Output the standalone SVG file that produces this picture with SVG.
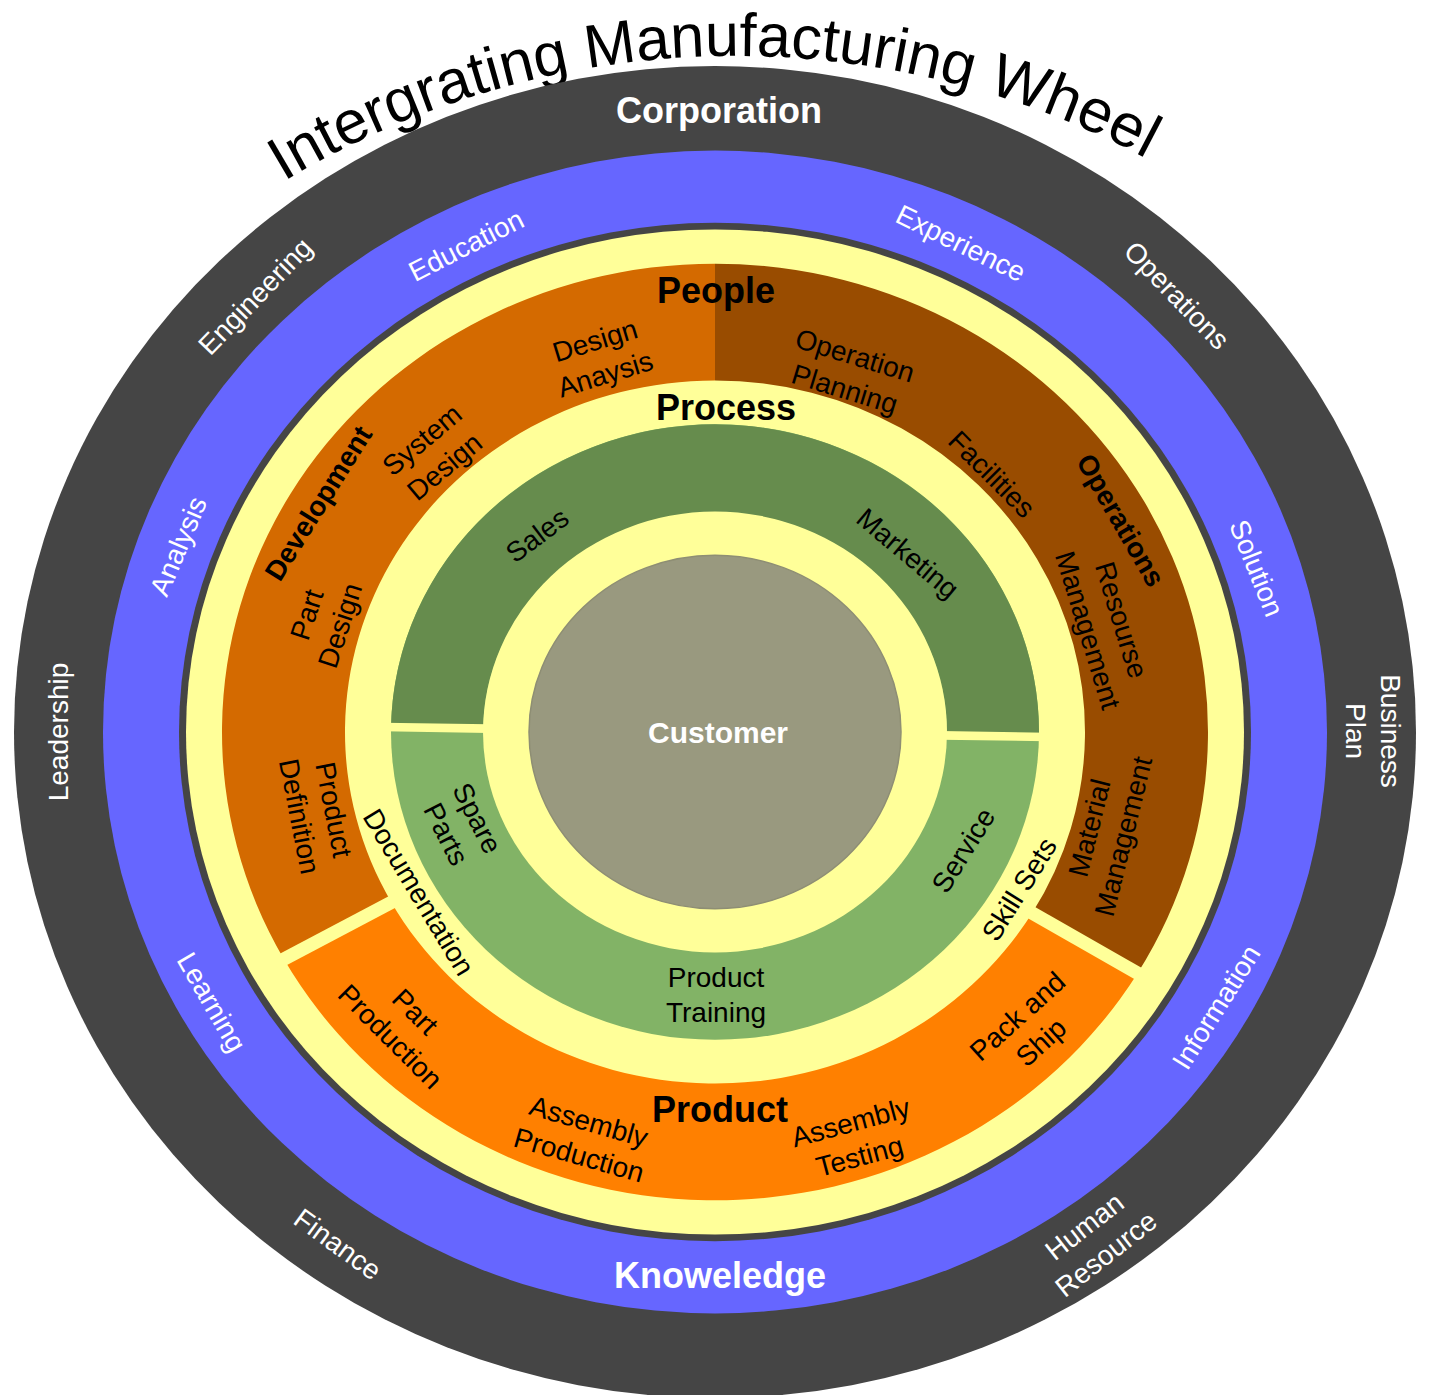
<svg xmlns="http://www.w3.org/2000/svg" width="1429" height="1395" viewBox="0 0 1429 1395">
<style>
text { font-family: "Liberation Sans", Arial, sans-serif; text-anchor: middle; }
.w { fill: #ffffff; font-size: 28px; }
.k { fill: #000000; font-size: 28px; }
.bold { font-weight: bold; }
.big { font-size: 36px; font-weight: bold; }
.title { font-size: 61px; fill: #000000; }
.gap { stroke: #FFFF99; stroke-width: 14; fill: none; }
.ggap { stroke: #FFFF99; stroke-width: 9; fill: none; }
</style>
<defs>
<path id="titleArc" d="M 173.2 260.6 A 874.8 874.8 0 0 1 1297.8 260.6"/>
</defs>
<rect width="1429" height="1395" fill="#ffffff"/>

<g id="title">
<text class="title"><textPath href="#titleArc" startOffset="587.2">Intergrating Manufacturing Wheel</textPath></text>
</g>

<g id="wheel" transform="translate(715,732) scale(1,0.95)">
  <circle id="ring-corporation" r="701" fill="#454545"/>
  <circle id="ring-knowledge" r="612" fill="#6666FF"/>
  <circle id="ring-sep" r="536" fill="#454545"/>
  <circle id="ring-yellow" r="529" fill="#FFFF99"/>
  <path id="seg-operations" d="M 0 -493 A 493 493 0 0 1 422.58 253.91 L 317.15 190.56 A 370 370 0 0 0 0 -370 Z" fill="#994C00"/>
  <path id="seg-product" d="M 422.58 253.91 A 493 493 0 0 1 -431.19 239.01 L -323.61 179.38 A 370 370 0 0 0 317.15 190.56 Z" fill="#FF8000"/>
  <path id="seg-development" d="M -431.19 239.01 A 493 493 0 0 1 0 -493 L 0 -370 A 370 370 0 0 0 -323.61 179.38 Z" fill="#D46A00"/>
  <line class="gap" x1="308.6" y1="185.4" x2="431.2" y2="259.1"/>
  <line class="gap" x1="-314.9" y1="174.5" x2="-439.9" y2="243.9"/>
  <circle id="ring-green-light" r="324" fill="#82B366"/>
  <path id="seg-green-dark" d="M -323.96 -5.09 A 324 324 0 0 1 323.96 5.09 L 231.97 3.64 A 232 232 0 0 0 -231.97 -3.64 Z" fill="#668C4D"/>
  <circle id="ring-inner-yellow" r="232" fill="#FFFF99"/>
  <line class="ggap" x1="226" y1="3.55" x2="332" y2="5.22"/>
  <line class="ggap" x1="-226" y1="-3.55" x2="-332" y2="-5.22"/>
  <circle id="customer" r="186" fill="#99997F" stroke="#8E8E74" stroke-width="1.5"/>
</g>

<g id="labels-corporation">
  <text class="w bold" x="719" y="123" style="font-size:36px">Corporation</text>
  <text class="w" transform="translate(255,296) rotate(-46)" y="10">Engineering</text>
  <text class="w" transform="translate(1177,295) rotate(46)" y="10">Operations</text>
  <text class="w" transform="translate(58,732) rotate(-90)" y="10">Leadership</text>
  <text class="w" transform="translate(1373,731) rotate(90)"><tspan x="0" y="-7.5">Business</tspan><tspan x="0" y="27.5">Plan</tspan></text>
  <text class="w" transform="translate(338,1244) rotate(36)" y="10">Finance</text>
  <text class="w" transform="translate(1095,1240) rotate(-38)"><tspan x="0" y="-7.5">Human</tspan><tspan x="0" y="27.5">Resource</tspan></text>
</g>

<g id="labels-knowledge">
  <text class="w" transform="translate(466,245) rotate(-27)" y="10">Education</text>
  <text class="w" transform="translate(961,243) rotate(26)" y="10">Experience</text>
  <text class="w" transform="translate(178,546) rotate(-67)" y="10">Analysis</text>
  <text class="w" transform="translate(1257,568) rotate(68)" y="10">Solution</text>
  <text class="w" transform="translate(212,1002) rotate(60)" y="10">Learning</text>
  <text class="w" transform="translate(1216,1007) rotate(-58)" y="10">Information</text>
  <text class="w bold" x="720" y="1288" style="font-size:36px">Knoweledge</text>
</g>

<g id="labels-people">
  <text class="k big" x="716" y="303">People</text>
  <text class="k" transform="translate(600,357) rotate(-17)"><tspan x="0" y="-7.5">Design</tspan><tspan x="0" y="27.5">Anaysis</tspan></text>
  <text class="k" transform="translate(433,453) rotate(-40)"><tspan x="0" y="-7.5">System</tspan><tspan x="0" y="27.5">Design</tspan></text>
  <text class="k bold" transform="translate(318,503) rotate(-58)" y="10">Development</text>
  <text class="k" transform="translate(323,620) rotate(-72)"><tspan x="0" y="-7.5">Part</tspan><tspan x="0" y="27.5">Design</tspan></text>
  <text class="k" transform="translate(317,813) rotate(79)"><tspan x="0" y="-7.5">Product</tspan><tspan x="0" y="27.5">Definition</tspan></text>
  <text class="k" transform="translate(403,1024) rotate(45)"><tspan x="0" y="-7.5">Part</tspan><tspan x="0" y="27.5">Production</tspan></text>
  <text class="k" transform="translate(584,1138) rotate(16)"><tspan x="0" y="-7.5">Assembly</tspan><tspan x="0" y="27.5">Production</tspan></text>
  <text class="k big" x="720" y="1122">Product</text>
  <text class="k" transform="translate(855,1139) rotate(-15)"><tspan x="0" y="-7.5">Assembly</tspan><tspan x="0" y="27.5">Testing</tspan></text>
  <text class="k" transform="translate(1029,1029) rotate(-42)"><tspan x="0" y="-7.5">Pack and</tspan><tspan x="0" y="27.5">Ship</tspan></text>
  <text class="k" transform="translate(850,372) rotate(17)"><tspan x="0" y="-7.5">Operation</tspan><tspan x="0" y="27.5">Planning</tspan></text>
  <text class="k" transform="translate(992,474) rotate(45)" y="10">Facilities</text>
  <text class="k bold" transform="translate(1121,520) rotate(60)" y="10">Operations</text>
  <text class="k" transform="translate(1105,625) rotate(73)"><tspan x="0" y="-7.5">Resourse</tspan><tspan x="0" y="27.5">Management</tspan></text>
  <text class="k" transform="translate(1106,832) rotate(-76)"><tspan x="0" y="-7.5">Material</tspan><tspan x="0" y="27.5">Management</tspan></text>
</g>

<g id="labels-process">
  <text class="k big" x="726" y="420">Process</text>
  <text class="k" transform="translate(419,892) rotate(59)" y="10">Documentation</text>
  <text class="k" transform="translate(1019,889) rotate(-58)" y="10">Skill Sets</text>
  <text class="k" transform="translate(537,535) rotate(-37)" y="10">Sales</text>
  <text class="k" transform="translate(908,553) rotate(40)" y="10">Marketing</text>
  <text class="k" transform="translate(462,826) rotate(63)"><tspan x="0" y="-7.5">Spare</tspan><tspan x="0" y="27.5">Parts</tspan></text>
  <text class="k" transform="translate(963,850) rotate(-58)" y="10">Service</text>
  <text class="k" transform="translate(716,994)"><tspan x="0" y="-7.5">Product</tspan><tspan x="0" y="27.5">Training</tspan></text>
</g>

<g id="label-customer">
  <text class="w bold" x="718" y="743" style="font-size:30px">Customer</text>
</g>
</svg>
